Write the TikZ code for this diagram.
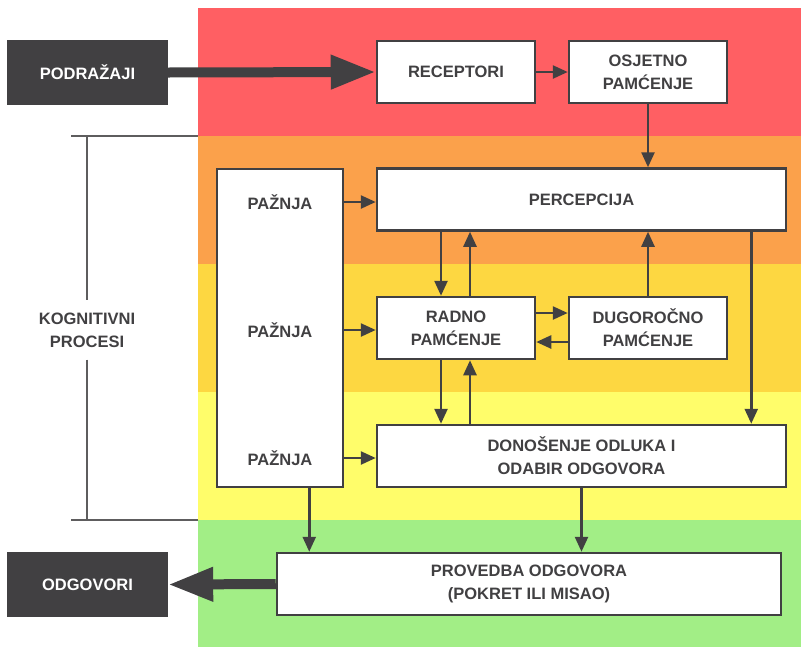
\documentclass[tikz,border=0pt]{standalone}
\usepackage{fontspec}
\setmainfont{Liberation Sans}
\usetikzlibrary{arrows.meta}

\definecolor{bandred}{HTML}{FF5F63}
\definecolor{bandorange}{HTML}{FBA14B}
\definecolor{bandyellow}{HTML}{FDD741}
\definecolor{bandlight}{HTML}{FFFD6A}
\definecolor{bandgreen}{HTML}{A2EE86}
\definecolor{ink}{HTML}{414042}

\tikzset{
    boxfont/.style={font=\fontsize{16.5}{23}\selectfont\bfseries},
    box/.style={boxfont, draw=ink, line width=2.5pt, fill=white, text=ink, inner sep=0pt, align=center},
    smallbox/.style={box, minimum width=158pt, minimum height=62pt},
    widebox/.style={box, minimum width=409pt, minimum height=62pt},
    darkbox/.style={boxfont, fill=ink, text=white, inner sep=0pt, minimum width=161pt, minimum height=65pt},
    txt/.style={boxfont, text=ink, align=center},
    conn/.style={draw=ink, line width=2.5pt, -{Triangle[length=15pt,width=13pt]}},
    bigarrow/.style={draw=ink, line width=10pt, -{Triangle[length=45pt,width=32pt]}},
    bracket/.style={draw=ink!85, line width=1.2pt}
}

\begin{document}
\begin{tikzpicture}[x=1pt, y=-1pt]
    % Definitions
    \useasboundingbox (0,0) rectangle (801,646);
    \def \bandtop{8}
    \def \bandheight{128}
    %%%
    %%% Coloured bands
    %%%
    \foreach \col [count=\i from 0] in {bandred, bandorange, bandyellow, bandlight, bandgreen}
    {
        \fill[\col] (198,\bandtop+\bandheight*\i) rectangle (801,\bandtop+\bandheight*\i+\bandheight);
    }
    %%%
    %%% Boxes
    %%%
    \node[darkbox] (podr) at (87.5,72.5) {PODRAŽAJI};
    \node[smallbox] (rec) at (456,72) {RECEPTORI};
    \node[smallbox] (osj) at (648,72) {OSJETNO\\PAMĆENJE};
    \node[widebox] (perc) at (581.5,199.5) {PERCEPCIJA};
    \node[box, minimum width=126pt, minimum height=318pt] (paz) at (280,328) {};
    \node[txt] (paz1) at (280,202) {PAŽNJA};
    \node[txt] (paz2) at (280,330) {PAŽNJA};
    \node[txt] (paz3) at (280,458) {PAŽNJA};
    \node[smallbox] (radno) at (456,328) {RADNO\\PAMĆENJE};
    \node[smallbox] (dug) at (648,328) {DUGOROČNO\\PAMĆENJE};
    \node[widebox] (odl) at (581.5,456) {DONOŠENJE ODLUKA I\\ODABIR ODGOVORA};
    \node[box, minimum width=504pt, minimum height=62pt] (prov) at (529,584) {PROVEDBA ODGOVORA\\(POKRET ILI MISAO)};
    \node[darkbox] (odg) at (87.5,584.5) {ODGOVORI};
    % Bracket
    \node[txt, inner ysep=12pt] (kog) at (87,330) {KOGNITIVNI\\PROCESI};
    \coordinate (brtop) at (87,136);
    \coordinate (brbot) at (87,520);
    \draw[bracket] (71,136) -- (198,136);
    \draw[bracket] (71,520) -- (198,520);
    \draw[bracket] (brtop) -- (kog.north);
    \draw[bracket] (kog.south) -- (brbot);
    %%%
    %%% Connectors
    %%%
    \draw[bigarrow] (podr.east) -- (rec.west);
    \draw[bigarrow] (prov.west) -- (odg.east);
    \draw[conn] (rec.east) -- (osj.west);
    \draw[conn] (osj.south) -- (osj.south |- perc.north);
    % Attention to the processes
    \foreach \p/\q in {paz1/perc, paz2/radno, paz3/odl}
    {
        \draw[conn] (\p -| paz.east) -- (\p -| \q.west);
    }
    % Working memory up and down
    \coordinate (rdown) at ([xshift=-15pt]radno.north);
    \coordinate (rup) at ([xshift=14pt]radno.north);
    \draw[conn] (rdown |- perc.south) -- (rdown);
    \draw[conn] (rup) -- (rup |- perc.south);
    \draw[conn] (rdown |- radno.south) -- (rdown |- odl.north);
    \draw[conn] (rup |- odl.north) -- (rup |- radno.south);
    % Working and long-term memory
    \draw[conn] ([yshift=15pt]radno.east) -- ([yshift=15pt]dug.west);
    \draw[conn] ([yshift=-14pt]dug.west) -- ([yshift=-14pt]radno.east);
    \draw[conn] (dug.north) -- (dug.north |- perc.south);
    % Down to decision and response
    \coordinate (pright) at ([xshift=-36pt]perc.south east);
    \draw[conn] (pright) -- (pright |- odl.north);
    \draw[conn] (odl.south) -- (odl.south |- prov.north);
    \coordinate (pzout) at ([xshift=-35pt]paz.south east);
    \draw[conn] (pzout) -- (pzout |- prov.north);
\end{tikzpicture}
\end{document}
